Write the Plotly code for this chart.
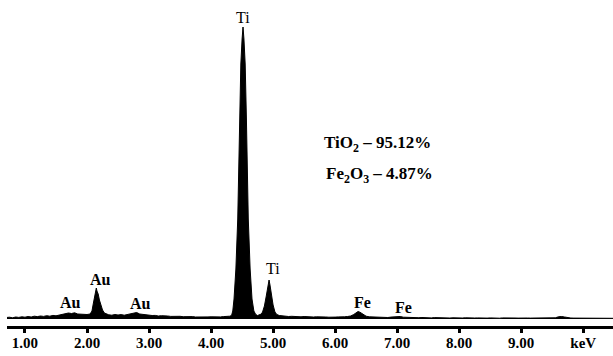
import plotly.graph_objects as go

# EDS spectrum (energy in keV, counts in arbitrary units)
energy = [
    0.70, 0.75, 0.80, 0.85, 0.90, 0.95, 1.00, 1.05, 1.10, 1.15, 1.20, 1.25, 1.30, 1.35,
    1.40, 1.45, 1.50, 1.55, 1.60, 1.65, 1.70, 1.75, 1.80, 1.85, 1.90, 1.95, 2.00,
    2.05, 2.08, 2.10, 2.12, 2.14, 2.15, 2.16, 2.18, 2.20, 2.22, 2.25, 2.28, 2.32,
    2.35, 2.40, 2.45, 2.50, 2.55, 2.60, 2.65, 2.70, 2.75, 2.80, 2.85, 2.90, 2.95,
    3.00, 3.05, 3.10, 3.15, 3.20, 3.25, 3.30, 3.35, 3.40, 3.45, 3.50, 3.55, 3.60,
    3.65, 3.70, 3.75, 3.80, 3.85, 3.90, 3.95, 4.00, 4.05, 4.10, 4.15, 4.20, 4.25, 4.30,
    4.33, 4.35, 4.37, 4.40, 4.43, 4.46, 4.48, 4.50, 4.515, 4.53, 4.55, 4.57, 4.60,
    4.63, 4.66, 4.69, 4.72, 4.75, 4.78, 4.81,
    4.83, 4.86, 4.89, 4.91, 4.935, 4.95, 4.97, 5.00, 5.03, 5.06, 5.10,
    5.15, 5.20, 5.25, 5.30, 5.35, 5.40, 5.45, 5.50, 5.55, 5.60, 5.65, 5.70, 5.75,
    5.80, 5.85, 5.90, 5.95, 6.00, 6.05, 6.10, 6.15, 6.20,
    6.25, 6.30, 6.34, 6.37, 6.40, 6.43, 6.46, 6.50, 6.55,
    6.60, 6.65, 6.70, 6.75, 6.80, 6.85, 6.90, 6.95, 7.00, 7.05, 7.10, 7.15, 7.20,
    7.25, 7.30, 7.35, 7.40, 7.45, 7.50, 7.55, 7.60, 7.65, 7.70, 7.75, 7.80, 7.85,
    7.90, 7.95, 8.00, 8.05, 8.10, 8.15, 8.20, 8.25, 8.30, 8.35, 8.40, 8.45, 8.50,
    8.55, 8.60, 8.65, 8.70, 8.75, 8.80, 8.85, 8.90, 8.95, 9.00, 9.05, 9.10, 9.15,
    9.20, 9.25, 9.30, 9.35, 9.40, 9.45, 9.50, 9.55, 9.60, 9.65, 9.70, 9.75, 9.80,
    9.85, 9.90, 9.95, 10.00, 10.05, 10.10, 10.15, 10.20, 10.25, 10.30, 10.35, 10.40,
    10.45, 10.50,
]
counts = [
    15, 18, 12, 20, 16, 22, 18, 25, 20, 28, 24, 30, 26, 33,
    28, 36, 32, 40, 45, 52, 60, 55, 62, 50, 48, 42, 45,
    50, 80, 150, 230, 290, 310, 280, 250, 190, 140, 90, 60, 45,
    42, 38, 45, 40, 44, 38, 46, 50, 58, 65, 50, 45, 40,
    38, 35, 36, 30, 33, 28, 30, 26, 28, 25, 27, 23, 25,
    22, 24, 20, 22, 20, 23, 21, 22, 20, 22, 21, 24, 25, 28,
    35, 80, 200, 500, 1000, 2000, 2550, 2800, 2920, 2800, 2550, 2000, 1000,
    500, 200, 80, 45, 35, 40, 50,
    70, 130, 230, 310, 390, 340, 250, 140, 70, 45, 35,
    30, 28, 25, 27, 24, 26, 22, 25, 21, 24, 20, 22, 19,
    23, 20, 18, 22, 19, 21, 18, 22, 25,
    30, 45, 60, 75, 68, 55, 40, 28, 22,
    20, 17, 19, 16, 18, 15, 19, 22, 18, 25, 18, 16, 18,
    14, 16, 13, 15, 12, 14, 11, 14, 12, 15, 11, 13, 10,
    12, 10, 13, 10, 12, 9, 12, 10, 11, 9, 12, 9, 11,
    9, 10, 8, 11, 9, 10, 8, 10, 9, 11, 8, 10, 9,
    10, 8, 9, 8, 10, 8, 9, 12, 22, 25, 20, 12, 10,
    9, 9, 8, 9, 7, 8, 7, 8, 7, 8, 7, 8,
    7, 7,
]

tick_vals = [1, 2, 3, 4, 5, 6, 7, 8, 9, 10]
tick_text = ["1.00", "2.00", "3.00", "4.00", "5.00", "6.00", "7.00", "8.00", "9.00", "keV"]

peak_labels = ["Au", "Au", "Au", "Ti", "Ti", "Fe", "Fe"]
peak_x = [1.74, 2.21, 2.87, 4.516, 5.00, 6.44, 7.11]
peak_y = [170, 400, 160, 3020, 510, 170, 120]
peak_bold = [True, True, True, False, False, True, True]

comp_lines = ["TiO<sub>2</sub> – 95.12%", "Fe<sub>2</sub>O<sub>3</sub> – 4.87%"]
comp_x = [6.69, 6.71]
comp_y = [1750, 1440]

FONT = "Liberation Serif, Times New Roman, serif"

fig = go.Figure()
fig.add_trace(go.Scatter(
    x=energy, y=counts, mode="lines",
    line=dict(color="black", width=1),
    fill="tozeroy", fillcolor="black",
    hoverinfo="skip", showlegend=False,
))

annotations = []
for t, x, y, b in zip(peak_labels, peak_x, peak_y, peak_bold):
    annotations.append(dict(
        x=x, y=y, xref="x", yref="y", text=t, showarrow=False,
        font=dict(family=FONT, size=16, color="black", weight="bold" if b else "normal"),
        xanchor="center", yanchor="middle",
    ))
for t, x, y in zip(comp_lines, comp_x, comp_y):
    annotations.append(dict(
        x=x, y=y, xref="x", yref="y", text=t, showarrow=False,
        font=dict(family=FONT, size=17, color="black", weight="bold"),
        xanchor="center", yanchor="middle",
    ))

fig.update_layout(
    width=613, height=356,
    margin=dict(l=7, r=0, t=10, b=30),
    paper_bgcolor="white", plot_bgcolor="white",
    showlegend=False,
    annotations=annotations,
    xaxis=dict(
        range=[0.71, 10.48], showgrid=False, zeroline=False,
        showline=True, linecolor="black", linewidth=3,
        ticks="outside", ticklen=4, tickwidth=3, tickcolor="black",
        tickvals=tick_vals, ticktext=tick_text, ticklabelstandoff=-3,
        tickfont=dict(family=FONT, size=15, color="black", weight="bold"),
    ),
    xaxis2=dict(
        overlaying="x", matches="x", anchor="y", side="bottom",
        showgrid=False, zeroline=False, showline=False,
        ticks="inside", ticklen=3, tickwidth=3, tickcolor="black",
        tickvals=tick_vals, showticklabels=False,
    ),
    yaxis=dict(
        range=[-70, 3090], visible=False, showgrid=False, zeroline=False,
    ),
)

fig.write_html(
    "out.html",
    config={"displayModeBar": False, "staticPlot": True},
    post_script="document.body.style.margin='0';document.body.style.overflow='hidden';",
)
